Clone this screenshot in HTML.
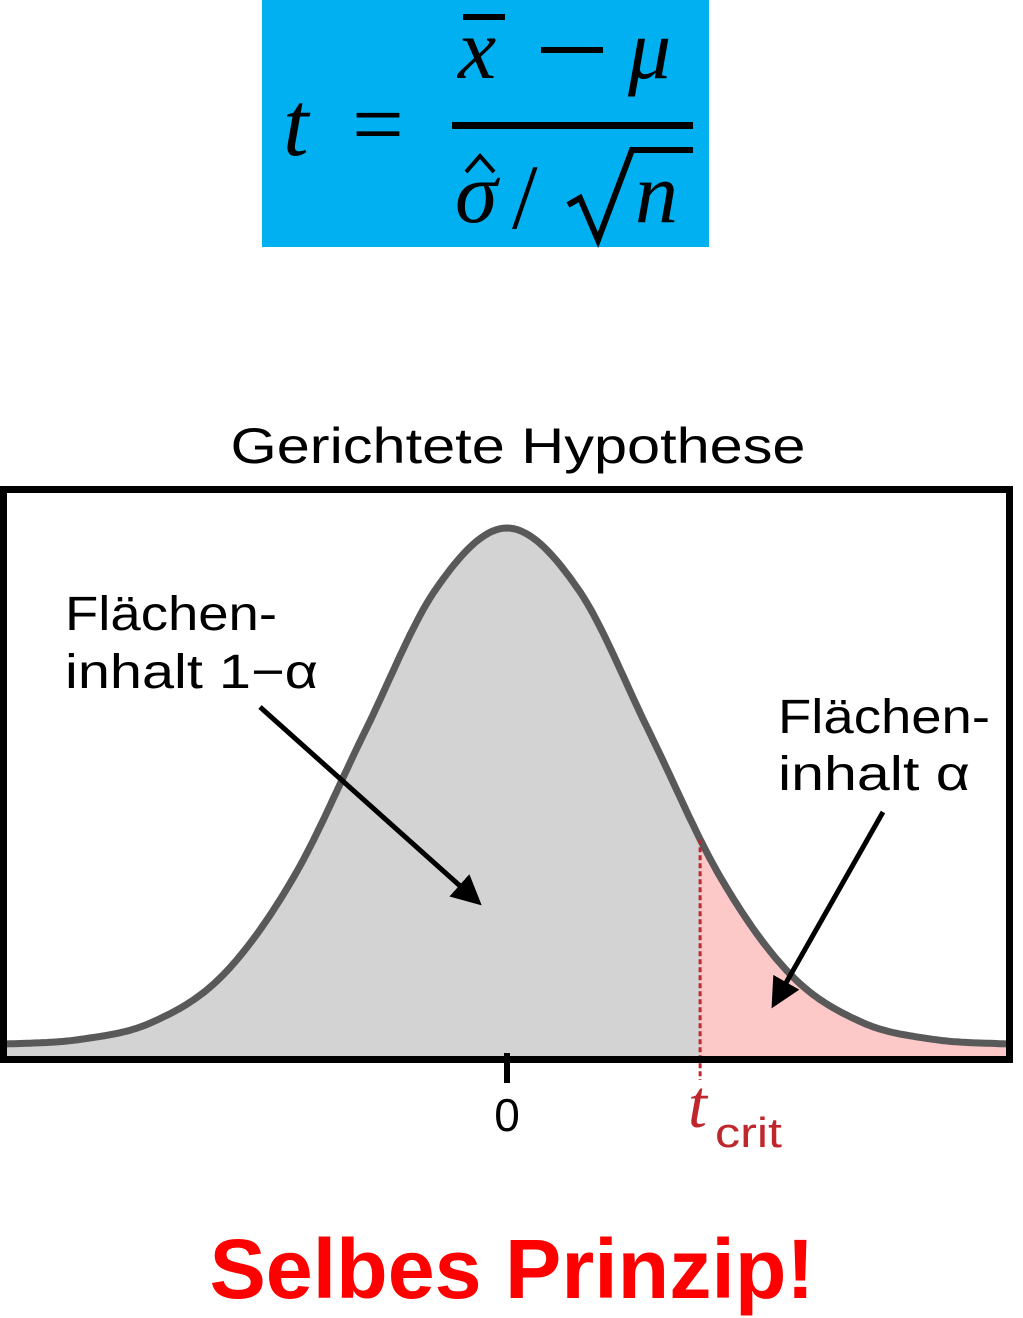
<!DOCTYPE html>
<html><head><meta charset="utf-8"><style>
html,body{margin:0;padding:0;background:#fff;}
svg{display:block;}
</style></head><body>
<svg width="1023" height="1318" viewBox="0 0 1023 1318">
  <g>
    <rect x="262" y="0" width="447" height="247" fill="#00B0F0"/>
    <text x="283" y="155" font-family="Liberation Serif, serif" font-style="italic" font-size="92" fill="#000">t</text>
    <text x="352" y="155" font-family="Liberation Serif, serif" font-size="92" fill="#000">=</text>
    <text x="458" y="78" font-family="Liberation Serif, serif" font-style="italic" font-size="86" fill="#000">x</text>
    <rect x="463" y="14" width="42" height="6" fill="#000"/>
    <rect x="541" y="47" width="62" height="6" fill="#000"/>
    <text x="628" y="78" font-family="Liberation Serif, serif" font-style="italic" font-size="86" fill="#000">μ</text>
    <rect x="452" y="122" width="241" height="7" fill="#000"/>
    <text x="455" y="222" font-family="Liberation Serif, serif" font-style="italic" font-size="86" fill="#000">σ</text>
    <path d="M466 172 L480 156 L494 172" fill="none" stroke="#000" stroke-width="4"/>
    <text x="512" y="228" font-family="Liberation Serif, serif" font-size="92" fill="#000">/</text>
    <path d="M568 205 L580 198 L598 240 L632 150 L693 150" fill="none" stroke="#000" stroke-width="6"/>
    <text x="635" y="222" font-family="Liberation Serif, serif" font-style="italic" font-size="86" fill="#000">n</text>
  </g>
  <text x="518" y="463" text-anchor="middle" font-family="Liberation Sans, sans-serif" font-size="50" textLength="575" lengthAdjust="spacingAndGlyphs" fill="#000">Gerichtete Hypothese</text>
  <g id="plot"></g>
  <rect x="3.5" y="489.5" width="1006" height="570" fill="none" stroke="#000" stroke-width="7"/>
  <line x1="507" y1="1053" x2="507" y2="1083" stroke="#000" stroke-width="6"/>
  <text x="507" y="1131" text-anchor="middle" font-family="Liberation Sans, sans-serif" font-size="46" fill="#000">0</text>
  <text x="688" y="1127" font-family="Liberation Serif, serif" font-style="italic" font-size="68" fill="#C0272D">t<tspan font-family="Liberation Sans, sans-serif" font-style="normal" font-size="42" dy="20" x="715" textLength="67" lengthAdjust="spacingAndGlyphs">crit</tspan></text>
  <g font-family="Liberation Sans, sans-serif" font-size="48" fill="#000">
    <text x="65" y="630" textLength="212" lengthAdjust="spacingAndGlyphs">Flächen-</text>
    <text x="65" y="688" textLength="253" lengthAdjust="spacingAndGlyphs">inhalt 1−α</text>
    <text x="778" y="733" textLength="212" lengthAdjust="spacingAndGlyphs">Flächen-</text>
    <text x="778" y="790" textLength="192" lengthAdjust="spacingAndGlyphs">inhalt α</text>
  </g>
  <defs><marker id="ah" markerWidth="6" markerHeight="6" refX="5" refY="3" orient="auto" markerUnits="strokeWidth"><path d="M0,0 L6,3 L0,6 z" fill="#000"/></marker></defs>
  <line x1="260" y1="707" x2="478" y2="902" stroke="#000" stroke-width="5" marker-end="url(#ah)"/>
  <line x1="883" y1="812" x2="774" y2="1004" stroke="#000" stroke-width="5" marker-end="url(#ah)"/>
  <text x="512" y="1298" text-anchor="middle" font-family="Liberation Sans, sans-serif" font-weight="bold" font-size="84" textLength="605" lengthAdjust="spacingAndGlyphs" fill="#FF0000">Selbes Prinzip!</text>
</svg>
<script>
const tValues = [-4, -3.5, -3, -2.5, -2, -1.5, -1, -0.5, 0, 0.5, 1, 1.5, 2, 2.5, 3, 3.5, 4];
const densities = [0.0001, 0.0009, 0.0044, 0.0175, 0.054, 0.130, 0.242, 0.352, 0.399, 0.352, 0.242, 0.130, 0.054, 0.0175, 0.0044, 0.0009, 0.0001];
const tCrit = [1.36];

const X = t => 507 + t * 142;
const Y = d => 1045 - d * (517 / 0.399);
const NS = 'http://www.w3.org/2000/svg';
const plot = document.getElementById('plot');

function dens(t) {
  const n = tValues.length;
  let i = 0;
  while (i < n - 2 && t > tValues[i + 1]) i++;
  const p0 = densities[Math.max(i - 1, 0)], p1 = densities[i], p2 = densities[i + 1], p3 = densities[Math.min(i + 2, n - 1)];
  const u = (t - tValues[i]) / (tValues[i + 1] - tValues[i]);
  return 0.5 * ((2 * p1) + (-p0 + p2) * u + (2 * p0 - 5 * p1 + 4 * p2 - p3) * u * u + (-p0 + 3 * p1 - 3 * p2 + p3) * u * u * u);
}
const tMin = (7 - 507) / 142, tMax = (1006 - 507) / 142;
function pts(a, b) {
  const arr = [];
  for (let k = 0; k <= 300; k++) { const t = a + (b - a) * k / 300; arr.push(X(t).toFixed(1) + ',' + Y(dens(t)).toFixed(1)); }
  return arr;
}
const base = 1057;
const gray = document.createElementNS(NS, 'path');
gray.setAttribute('d', 'M' + X(tMin) + ',' + base + ' L' + pts(tMin, tCrit[0]).join(' L') + ' L' + X(tCrit[0]) + ',' + base + ' Z');
gray.setAttribute('fill', '#D3D3D3');


plot.appendChild(gray);
const pink = document.createElementNS(NS, 'path');
pink.setAttribute('d', 'M' + X(tCrit[0]) + ',' + base + ' L' + pts(tCrit[0], tMax).join(' L') + ' L' + X(tMax) + ',' + base + ' Z');
pink.setAttribute('fill', '#FCC8C8');


plot.appendChild(pink);
const curve = document.createElementNS(NS, 'path');
curve.setAttribute('d', 'M' + pts(tMin, tMax).join(' L'));
curve.setAttribute('fill', 'none');
curve.setAttribute('stroke', '#595959');
curve.setAttribute('stroke-width', '7');


plot.appendChild(curve);
const dash = document.createElementNS(NS, 'line');
dash.setAttribute('x1', X(tCrit[0])); dash.setAttribute('x2', X(tCrit[0]));
dash.setAttribute('y1', Y(dens(tCrit[0]))); dash.setAttribute('y2', 1080);
dash.setAttribute('stroke', '#C0272D'); dash.setAttribute('stroke-width', '3'); dash.setAttribute('stroke-dasharray', '5,3');


plot.appendChild(dash);
</script>
</body></html>
